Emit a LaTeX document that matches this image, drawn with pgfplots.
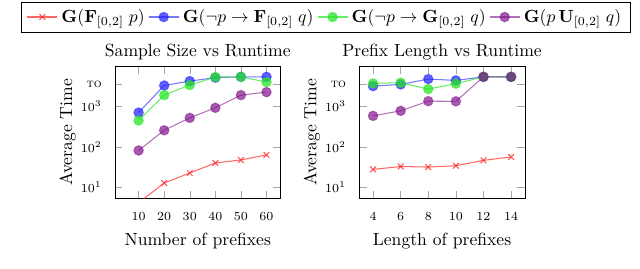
\documentclass[border=0pt]{standalone}
\usepackage{pgfplots}
\pgfplotsset{compat=1.18}
\definecolor{myred}{RGB}{255,40,40}
\definecolor{myblue}{RGB}{30,30,255}
\definecolor{mygreen}{RGB}{40,230,40}
\definecolor{mypurple}{RGB}{130,20,140}
\pgfplotsset{
  mycommonaxis/.style={
    scale only axis=true,
    width=94.1pt, height=75pt,
    ymin=5.5, ymax=10000,
    ytick={10,100,1000,3600},
    yticklabels={$10^1$,$10^2$,$10^3$,\textsc{to}},
    yminorticks=false,
    tick style={gray!70},
    ticklabel style={font=\scriptsize},
    xticklabel style={yshift=-5pt},
    yticklabel style={xshift=-4pt},
    ylabel={Average Time},
    ylabel style={yshift=-4pt},
    every axis title shift=0pt,
    every axis plot/.append style={line width=0.6pt},
  },
  sred/.style={color=myred, draw opacity=0.7, mark=x, mark size=2.3pt, mark options={solid, opacity=0.8}},
  sblue/.style={color=myblue, draw opacity=0.6, mark=*, mark size=2.7pt, mark options={solid, opacity=0.7, draw opacity=0.5}},
  sgreen/.style={color=mygreen, draw opacity=0.7, mark=*, mark size=2.7pt, mark options={solid, opacity=0.75, draw opacity=0.5}},
  spurple/.style={color=mypurple, draw opacity=0.6, mark=*, mark size=2.7pt, mark options={solid, opacity=0.7, draw opacity=0.5}},
}
\begin{document}
\begin{tikzpicture}
\path[use as bounding box] (-65.3pt,-39.8pt) rectangle (298.3pt,112.5pt);
\begin{semilogyaxis}[mycommonaxis,
  at={(0pt,0pt)}, anchor=south west,
  title={Sample Size vs Runtime},
  xlabel={Number of prefixes},
  xmin=0.75, xmax=65.5,
  xtick={10,20,30,40,50,60},
  legend columns=4,
  legend style={at={(1.273,1.487)}, anchor=north, draw=black, font=\normalsize,
    /tikz/every even column/.append style={column sep=0pt}},
  legend cell align=left,
]
\addplot[sred] coordinates {(10,4.2) (20,12.9) (30,22.8) (40,40.3) (50,47.9) (60,63.7)};
\addlegendentry{$\mathbf{G}(\mathbf{F}_{[0,2]}\; p)$}
\addplot[sblue] coordinates {(10,709) (20,3300) (30,4250) (40,5150) (50,5400) (60,5400)};
\addlegendentry{$\mathbf{G}(\neg p \rightarrow \mathbf{F}_{[0,2]}\; q)$}
\addplot[sgreen] coordinates {(10,450) (20,1910) (30,3380) (40,5330) (50,5400) (60,4010)};
\addlegendentry{$\mathbf{G}(\neg p \rightarrow \mathbf{G}_{[0,2]}\; q)$}
\addplot[spurple] coordinates {(10,82) (20,258) (30,525) (40,929) (50,1910) (60,2265)};
\addlegendentry{$\mathbf{G}(p\,\mathbf{U}_{[0,2]}\; q)$}
\end{semilogyaxis}
\begin{semilogyaxis}[mycommonaxis,
  at={(138.8pt,0pt)}, anchor=south west,
  title={Prefix Length vs Runtime},
  xlabel={Length of prefixes},
  xmin=3, xmax=15,
  xtick={4,6,8,10,12,14},
]
\addplot[sred] coordinates {(4,28) (6,33) (8,32) (10,34.5) (12,46.8) (14,56.8)};
\addplot[sblue] coordinates {(4,3190) (6,3510) (8,4760) (10,4410) (12,5400) (14,5400)};
\addplot[sgreen] coordinates {(4,3720) (6,3870) (8,2690) (10,3660) (12,5400) (14,5400)};
\addplot[spurple] coordinates {(4,588) (6,782) (8,1355) (10,1340) (12,5400) (14,5400)};
\end{semilogyaxis}
\end{tikzpicture}
\end{document}
